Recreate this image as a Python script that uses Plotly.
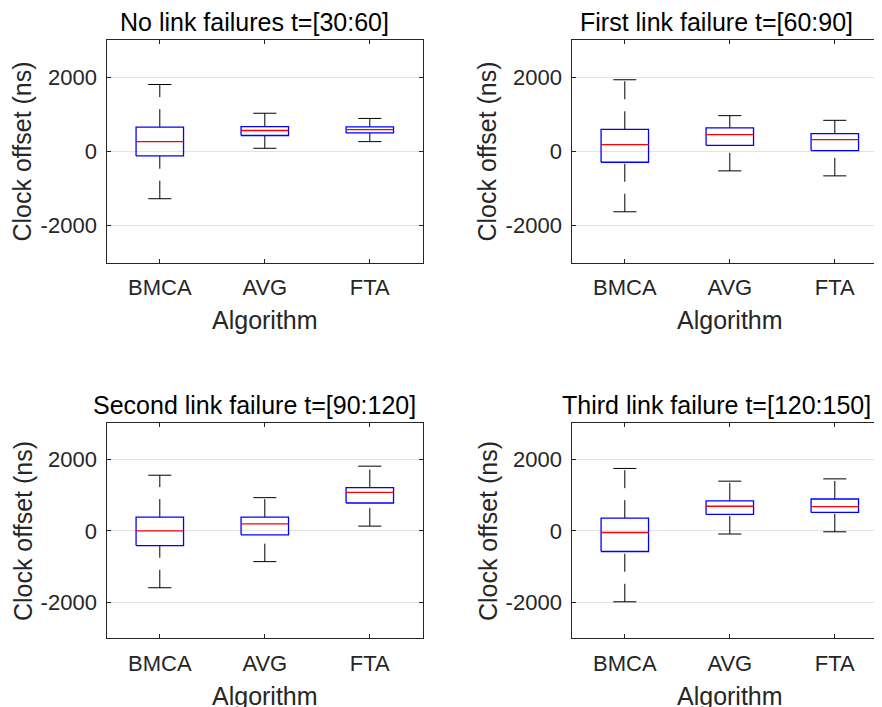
import plotly.graph_objects as go

categories = ["BMCA", "AVG", "FTA"]
panel_titles = [
    "No link failures t=[30:60]",
    "First link failure t=[60:90]",
    "Second link failure t=[90:120]",
    "Third link failure t=[120:150]",
]
y_tick_vals = [-2000, 0, 2000]
y_tick_text = ["-2000", "0", "2000"]
x_label = "Algorithm"
y_label = "Clock offset (ns)"

# Box statistics per panel, in category order BMCA, AVG, FTA
p1_lower = [-1280, 80, 260]
p1_q1 = [-125, 425, 495]
p1_median = [260, 560, 585]
p1_q3 = [650, 665, 658]
p1_upper = [1800, 1025, 885]

p2_lower = [-1632, -529, -664]
p2_q1 = [-296, 161, 18]
p2_median = [179, 448, 314]
p2_q3 = [592, 628, 475]
p2_upper = [1928, 960, 834]

p3_lower = [-1589, -860, 131]
p3_q1 = [-411, -112, 776]
p3_median = [0, 196, 1075]
p3_q3 = [383, 383, 1206]
p3_upper = [1551, 925, 1804]

p4_lower = [-1981, -90, -28]
p4_q1 = [-577, 460, 514]
p4_median = [-47, 685, 673]
p4_q3 = [353, 835, 888]
p4_upper = [1740, 1385, 1449]

panels = [
    (p1_lower, p1_q1, p1_median, p1_q3, p1_upper),
    (p2_lower, p2_q1, p2_median, p2_q3, p2_upper),
    (p3_lower, p3_q1, p3_median, p3_q3, p3_upper),
    (p4_lower, p4_q1, p4_median, p4_q3, p4_upper),
]

# The page body has an 8px default margin; the figure is sized to fill
# the remainder of the 882x707 window.
OFF = 8
W, H = 882 - OFF, 707 - OFF
FONT = "Liberation Sans, Arial, Helvetica, sans-serif"
AX = "#262626"
GRID = "#e3e3e3"
BOX_HW = 0.226
CAP_HW = 0.11

# axes placement (window pixels)
left_x = (107.3, 423.3)
right_x = (572.3, 882.0)
top_y = (40.0, 262.5)
bot_y = (423.3, 638.3)
unit_px = 105.0

def px(v):
    return (v - OFF) / W

def py(v):
    return 1 - (v - OFF) / H

def xd(a):
    return [px(a[0]), min(1.0, px(a[1]))]

def yd(a):
    return [py(a[1]), py(a[0])]

layout_pos = [
    (left_x, top_y, False),
    (right_x, top_y, True),
    (left_x, bot_y, False),
    (right_x, bot_y, True),
]

fig = go.Figure()

for k, (stats, (xp, yp, is_right)) in enumerate(zip(panels, layout_pos)):
    lower, q1, med, q3, upper = stats
    suf = "" if k == 0 else str(k + 1)
    xref, yref = "x" + suf, "y" + suf

    bx, by, mx, my, wx, wy, cx, cy = [], [], [], [], [], [], [], []
    for i in range(len(categories)):
        c = i + 1
        bx += [c - BOX_HW, c + BOX_HW, c + BOX_HW, c - BOX_HW, c - BOX_HW, None]
        by += [q1[i], q1[i], q3[i], q3[i], q1[i], None]
        mx += [c - BOX_HW, c + BOX_HW, None]
        my += [med[i], med[i], None]
        wx += [c, c, None, c, c, None]
        wy += [q3[i], upper[i], None, lower[i], q1[i], None]
        cx += [c - CAP_HW, c + CAP_HW, None, c - CAP_HW, c + CAP_HW, None]
        cy += [upper[i], upper[i], None, lower[i], lower[i], None]

    common = dict(mode="lines", showlegend=False, hoverinfo="skip", xaxis=xref, yaxis=yref)
    fig.add_trace(go.Scatter(x=wx, y=wy, line=dict(color="black", width=1, dash="18px,12px"), **common))
    fig.add_trace(go.Scatter(x=cx, y=cy, line=dict(color="black", width=1), **common))
    fig.add_trace(go.Scatter(x=bx, y=by, line=dict(color="#0000ff", width=1.3), **common))
    fig.add_trace(go.Scatter(x=mx, y=my, line=dict(color="#ff0000", width=1.3), **common))

    xr_max = 0.5 + (xp[1] - xp[0]) / unit_px
    axis_font = dict(family=FONT, size=22, color=AX)
    fig.layout["xaxis" + suf] = dict(
        domain=xd(xp), anchor=yref, range=[0.5, xr_max], automargin=False,
        tickvals=[1, 2, 3], ticktext=categories, ticks="inside", ticklen=4,
        tickcolor=AX, showline=True, linecolor=AX, linewidth=1, mirror="ticks",
        showgrid=False, zeroline=False, tickfont=axis_font, fixedrange=True,
        ticklabelstandoff=5,
    )
    fig.layout["yaxis" + suf] = dict(
        domain=yd(yp), anchor=xref, range=[-3000, 3000], automargin=False,
        tickvals=y_tick_vals, ticktext=y_tick_text, ticks="inside", ticklen=4,
        tickcolor=AX, showline=True, linecolor=AX, linewidth=1,
        mirror=False if is_right else "ticks",
        showgrid=True, gridcolor=GRID, gridwidth=1, zeroline=False,
        tickfont=axis_font, fixedrange=True, ticklabelstandoff=5,
    )

    title_cx = (xp[0] + min(xp[1], xp[0] + 316)) / 2 - 10.5
    # subplot title
    fig.add_annotation(text=panel_titles[k], x=px(title_cx), y=py(yp[0] - 18.5),
                       xref="paper", yref="paper", showarrow=False,
                       xanchor="center", yanchor="middle",
                       font=dict(family=FONT, size=25, color="black"))
    # x label
    fig.add_annotation(text=x_label, x=px(xp[0] + 158), y=py(yp[1] + 57.5),
                       xref="paper", yref="paper", showarrow=False,
                       xanchor="center", yanchor="middle",
                       font=dict(family=FONT, size=25, color=AX))
    # y label
    fig.add_annotation(text=y_label, x=px(xp[0] - 85), y=py((yp[0] + yp[1]) / 2),
                       xref="paper", yref="paper", showarrow=False, textangle=-90,
                       xanchor="center", yanchor="middle",
                       font=dict(family=FONT, size=25, color=AX))

fig.update_layout(
    width=W, height=H,
    margin=dict(l=0, r=0, t=0, b=0, autoexpand=False),
    paper_bgcolor="white", plot_bgcolor="white",
    font=dict(family=FONT, color=AX),
)

fig.write_html("out.html")
